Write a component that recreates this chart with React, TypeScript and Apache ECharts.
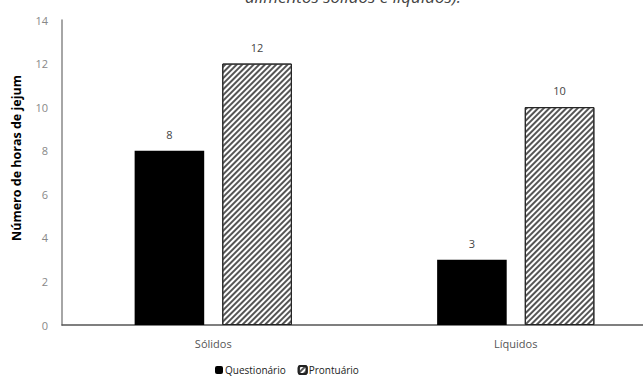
import React, { useEffect, useRef } from "react";
import * as echarts from "echarts";

const categories = ["Sólidos", "Líquidos"];
const questionario = [8, 3];
const prontuario = [12, 10];
const yTicks = { min: 0, max: 14, interval: 2 };

export default function App() {
  const ref = useRef<HTMLDivElement>(null);
  useEffect(() => {
    if (!ref.current) return;
    const chart = echarts.init(ref.current, undefined, { renderer: "svg" });
    const font = "'Open Sans', sans-serif";
    chart.setOption({
      animation: false,
      aria: { enabled: true, decal: { show: true } },
      grid: { left: 62, width: 605, top: 20, bottom: 60, outerBoundsMode: "none", containLabel: false },
      graphic: [
        {
          type: "text",
          left: 245,
          top: -12,
          style: {
            text: "alimentos sólidos e líquidos).",
            font: "italic 17px 'Open Sans', sans-serif",
            fill: "#444",
          },
        },
        {
          type: "text",
          x: 16,
          y: 158,
          rotation: Math.PI / 2,
          style: {
            text: "Número de horas de jejum",
            font: "bold 12.5px 'Open Sans', sans-serif",
            fill: "#000",
            align: "center",
            verticalAlign: "middle",
          },
        },
      ],
      legend: {
        bottom: 5,
        left: 210,
        itemWidth: 8,
        itemHeight: 8,
        itemGap: 12,
        textStyle: { fontFamily: font, fontSize: 10, color: "#222", padding: [0, 0, 0, -3] },
        data: ["Questionário", "Prontuário"],
      },
      xAxis: {
        type: "category",
        data: categories,
        axisLine: { lineStyle: { color: "#555", width: 1.5 } },
        axisTick: { show: false },
        axisLabel: { fontFamily: font, fontSize: 11, color: "#555", margin: 13 },
      },
      yAxis: {
        type: "value",
        ...yTicks,
        splitLine: { show: false },
        axisLine: { show: true, lineStyle: { color: "#888", width: 1.5 } },
        axisTick: { show: false },
        axisLabel: { fontFamily: font, fontSize: 11, color: "#888", margin: 14 },
      },
      series: [
        {
          name: "Questionário",
          type: "bar",
          data: questionario,
          barWidth: "23%",
          barGap: "26%",
          itemStyle: { color: "#000", decal: { symbol: "none" } },
          label: {
            show: true,
            position: "top",
            distance: 11,
            fontFamily: font,
            fontSize: 11,
            color: "#444",
          },
        },
        {
          name: "Prontuário",
          type: "bar",
          data: prontuario,
          barWidth: "23%",
          itemStyle: {
            color: "#fff",
            borderColor: "#222",
            borderWidth: 1,
            decal: {
              symbol: "rect",
              symbolSize: 1,
              dashArrayX: [1, 0],
              dashArrayY: [2, 1.5],
              rotation: -Math.PI / 4,
              color: "#555",
            },
          },
          label: {
            show: true,
            position: "top",
            distance: 11,
            fontFamily: font,
            fontSize: 11,
            color: "#444",
          },
        },
      ],
    });
    return () => chart.dispose();
  }, []);
  return (
    <div
      ref={ref}
      style={{ position: "fixed", left: 0, top: 0, width: 643, height: 385, background: "#fff" }}
    />
  );
}
